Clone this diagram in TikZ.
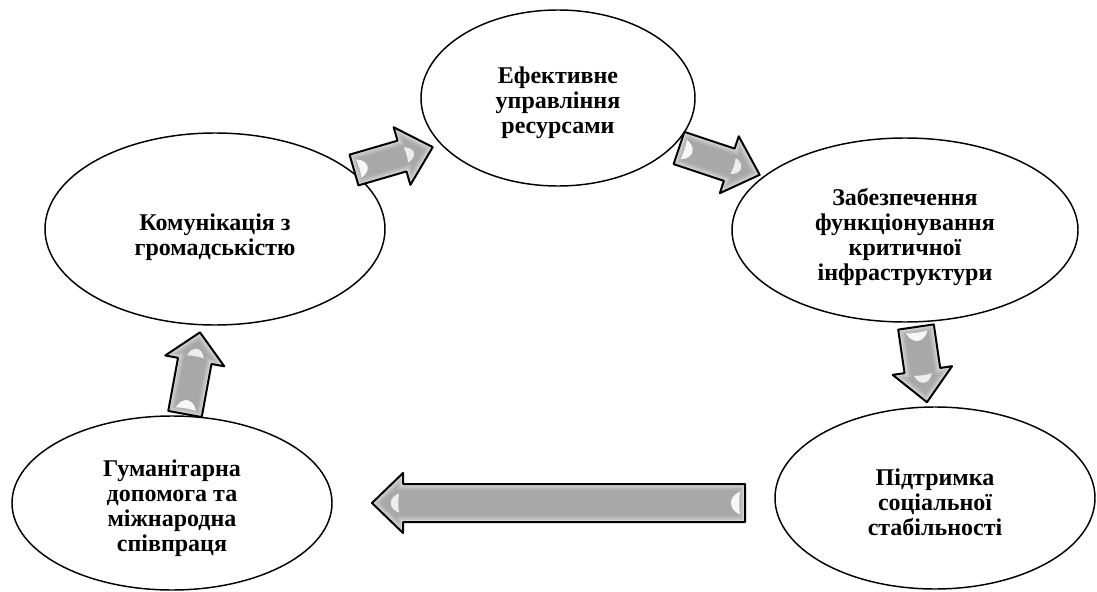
\documentclass[tikz,border=0pt]{standalone}
\usepackage{fontspec}
\setmainfont{Liberation Serif}
\usetikzlibrary{shapes.geometric}

% glossy block arrow: #1 tail coordinate, #2 direction (deg), #3 length,
% #4 half shaft width, #5 half head width, #6 head length
\newcommand\glossyarrow[6]{%
  \begin{scope}[shift={(#1)}, rotate=#2]
    \def\arrpath{(0,-#4) -- ({#3-#6},-#4) -- ({#3-#6},-#5) -- (#3,0)
      -- ({#3-#6},#5) -- ({#3-#6},#4) -- (0,#4) -- cycle}
    \begin{scope}
      \clip \arrpath;
      \fill[black!34] \arrpath;
      \draw[line width=9pt, black!30] \arrpath;
      \draw[line width=6pt, black!24] \arrpath;
      \draw[line width=3pt, black!16] \arrpath;
      % highlights near the tail and inside the head
      \fill[white, opacity=.9] (5,{-0.6*#4}) .. controls (17,{-0.35*#4}) and (17,{0.35*#4}) .. (5,{0.6*#4})
        .. controls (6,{0.2*#4}) and (6,{-0.2*#4}) .. cycle;
      \fill[white, opacity=.8] ({#3-#6+4},{-0.5*#4}) .. controls ({#3-#6+15},{-0.3*#4}) and ({#3-#6+15},{0.3*#4}) .. ({#3-#6+4},{0.5*#4})
        .. controls ({#3-#6+5},{0.2*#4}) and ({#3-#6+5},{-0.2*#4}) .. cycle;
    \end{scope}
    \draw[line width=1.5pt, line join=round] \arrpath;
  \end{scope}}

\begin{document}
\begin{tikzpicture}[x=0.75pt, y=-0.75pt,
  topic/.style={ellipse, draw, line width=1.1pt, fill=white, inner sep=0pt},
  label/.style={align=center, inner sep=0pt, font=\bfseries\fontsize{18}{18.8}\selectfont}]
\useasboundingbox (0,0) rectangle (1097,592);

% stages
\node[topic, minimum width=0.75*274pt, minimum height=0.75*176pt] (res) at (558,98) {};
\node[topic, minimum width=0.75*340pt, minimum height=0.75*192pt] (com) at (215,229) {};
\node[topic, minimum width=0.75*346pt, minimum height=0.75*184pt] (inf) at (905,230) {};
\node[topic, minimum width=0.75*320pt, minimum height=0.75*182pt] (soc) at (935,498) {};
\node[topic, minimum width=0.75*320pt, minimum height=0.75*174pt] (hum) at (172,503) {};

\node[label] (res-t) at ([yshift=-3.5pt]res.center) {Ефективне\\управління\\ресурсами};
\node[label] (com-t) at ([yshift=-6pt]com.center) {Комунікація з\\громадськістю};
\node[label] (inf-t) at ([yshift=-5pt]inf.center) {Забезпечення\\функціонування\\критичної\\інфраструктури};
\node[label] (soc-t) at ([yshift=-3pt]soc.center) {Підтримка\\соціальної\\стабільності};
\node[label] (hum-t) at ([yshift=-4pt]hum.center) {Гуманітарна\\допомога та\\міжнародна\\співпраця};

% arrow tails
\coordinate (t1) at (354,170);
\coordinate (t2) at (679,148);
\coordinate (t3) at (916,327);
\coordinate (t4) at (185,414);
\coordinate (t5) at (745,503);

\glossyarrow{t1}{16.2}{82}{16}{30}{32}
\glossyarrow{t2}{-18.4}{85}{17}{30}{32}
\glossyarrow{t3}{-81.7}{76}{18}{30}{32}
\glossyarrow{t4}{79.6}{83}{17}{30}{29}
\glossyarrow{t5}{180}{373}{19}{30}{31}
\end{tikzpicture}
\end{document}
